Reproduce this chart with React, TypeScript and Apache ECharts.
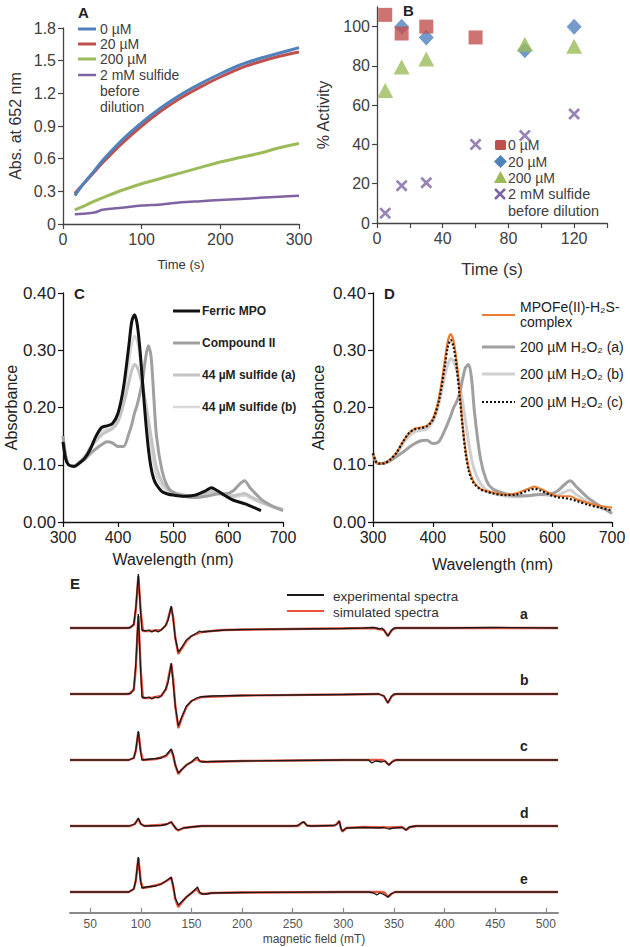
import React, { useEffect, useRef } from "react";
import * as echarts from "echarts";

const FONT = '"Liberation Sans", Arial, Helvetica, sans-serif';

// ---------- Panel A: Abs. at 652 nm vs time ----------
const timeA = [15, 25, 40, 50, 75, 100, 125, 150, 175, 200, 225, 250, 275, 300];
const absA_0uM = [0.26, 0.36, 0.49, 0.58, 0.77, 0.93, 1.07, 1.19, 1.29, 1.38, 1.46, 1.52, 1.57, 1.62];
const absA_20uM = [0.28, 0.36, 0.48, 0.56, 0.74, 0.9, 1.04, 1.16, 1.26, 1.35, 1.43, 1.49, 1.54, 1.58];
const absA_200uM = [0.13, 0.16, 0.21, 0.24, 0.31, 0.37, 0.42, 0.47, 0.52, 0.57, 0.61, 0.65, 0.7, 0.74];
const absA_2mM = [0.09, 0.095, 0.105, 0.13, 0.15, 0.17, 0.18, 0.2, 0.21, 0.22, 0.23, 0.24, 0.25, 0.26];
const legendA = ["0 µM", "20 µM", "200 µM", "2 mM sulfide"];

// ---------- Panel B: % activity vs time ----------
const timeB_0uM = [5, 15, 30, 60];
const actB_0uM = [106, 96.5, 100, 94.5];
const timeB_20uM = [15, 30, 90, 120];
const actB_20uM = [100, 94.5, 88, 100];
const timeB_200uM = [5, 15, 30, 90, 120];
const actB_200uM = [67.5, 79.5, 83.5, 91, 90];
const timeB_2mM = [5, 15, 30, 60, 90, 120];
const actB_2mM = [5, 19, 20.5, 40, 44.5, 55.5];
const yTicksB = [0, 20, 40, 60, 80, 100];
const xLabelsB = [0, 40, 80, 120];
const xTicksB = [0, 20, 40, 60, 80, 100, 120, 140];

// ---------- Panels C & D: spectra ----------
const wl = [300, 305, 310, 320, 330, 340, 350, 360, 370, 380, 390, 400, 410, 420, 425, 430, 435, 440, 445, 450, 455, 460, 465, 470, 480, 490, 500, 520, 540, 560, 570, 580, 600, 610, 620, 630, 640, 660, 680, 700];
const C_ferric = [0.14, 0.11, 0.1, 0.097, 0.103, 0.112, 0.128, 0.15, 0.165, 0.168, 0.172, 0.19, 0.235, 0.31, 0.35, 0.362, 0.345, 0.3, 0.24, 0.18, 0.13, 0.095, 0.075, 0.065, 0.053, 0.049, 0.047, 0.045, 0.047, 0.055, 0.06, 0.055, 0.043, 0.038, 0.035, 0.032, 0.028, 0.02, null, null];
const C_compII = [0.15, 0.115, 0.1, 0.098, 0.103, 0.11, 0.12, 0.128, 0.135, 0.14, 0.138, 0.132, 0.132, 0.155, 0.17, 0.19, 0.205, 0.225, 0.25, 0.285, 0.308, 0.29, 0.22, 0.15, 0.09, 0.062, 0.052, 0.045, 0.043, 0.045, 0.047, 0.049, 0.05, 0.055, 0.065, 0.072, 0.06, 0.04, 0.028, 0.02];
const C_sulfA = [0.15, 0.115, 0.1, 0.098, 0.105, 0.115, 0.13, 0.142, 0.152, 0.158, 0.163, 0.175, 0.205, 0.245, 0.265, 0.275, 0.27, 0.255, 0.235, 0.21, 0.18, 0.15, 0.12, 0.095, 0.07, 0.058, 0.052, 0.047, 0.045, 0.05, 0.053, 0.052, 0.046, 0.046, 0.048, 0.05, 0.045, 0.035, 0.028, 0.022];
const C_sulfB = [0.15, 0.115, 0.1, 0.098, 0.105, 0.115, 0.132, 0.148, 0.158, 0.162, 0.166, 0.18, 0.22, 0.28, 0.31, 0.325, 0.315, 0.285, 0.245, 0.205, 0.165, 0.13, 0.1, 0.08, 0.062, 0.054, 0.05, 0.046, 0.046, 0.053, 0.057, 0.054, 0.046, 0.044, 0.045, 0.046, 0.042, 0.033, 0.026, 0.02];
const D_complex = [0.12, 0.105, 0.102, 0.103, 0.11, 0.122, 0.14, 0.155, 0.163, 0.165, 0.168, 0.18, 0.215, 0.28, 0.315, 0.328, 0.315, 0.28, 0.23, 0.17, 0.125, 0.095, 0.078, 0.068, 0.058, 0.054, 0.052, 0.048, 0.05, 0.058, 0.062, 0.058, 0.048, 0.045, 0.045, 0.045, 0.04, 0.033, 0.028, 0.025];
const D_h2o2A = [0.12, 0.105, 0.102, 0.103, 0.108, 0.115, 0.122, 0.13, 0.137, 0.142, 0.143, 0.137, 0.14, 0.16, 0.172, 0.185, 0.2, 0.21, 0.225, 0.25, 0.27, 0.275, 0.25, 0.19, 0.11, 0.072, 0.058, 0.05, 0.046, 0.046, 0.047, 0.048, 0.05, 0.055, 0.065, 0.072, 0.062, 0.042, 0.028, 0.015];
const D_h2o2B = [0.12, 0.105, 0.102, 0.103, 0.11, 0.12, 0.137, 0.15, 0.158, 0.16, 0.163, 0.175, 0.205, 0.255, 0.275, 0.285, 0.28, 0.265, 0.24, 0.21, 0.175, 0.14, 0.11, 0.09, 0.067, 0.056, 0.05, 0.046, 0.044, 0.046, 0.048, 0.048, 0.046, 0.047, 0.052, 0.056, 0.048, 0.035, 0.025, 0.018];
const D_h2o2C = [0.12, 0.105, 0.102, 0.103, 0.11, 0.122, 0.14, 0.155, 0.162, 0.164, 0.167, 0.178, 0.21, 0.27, 0.305, 0.318, 0.305, 0.27, 0.22, 0.165, 0.12, 0.09, 0.075, 0.066, 0.057, 0.053, 0.05, 0.047, 0.048, 0.055, 0.058, 0.055, 0.046, 0.043, 0.042, 0.04, 0.037, 0.03, 0.025, 0.02];

// ---------- Panel E: EPR spectra [field (mT), signal] ----------
const epr_a_exp = [[30, 0], [85, 0], [90, 0.5], [93, 4], [95, 20], [97.5, 54], [99.5, 20], [101, -2], [105, -3], [108, -2], [111, -4], [114, -2], [117, -4], [120, -2], [124, 2], [127, 8], [130, 22], [131.5, 12], [134, -10], [137, -24], [140, -20], [145, -12], [150, -8], [155, -5], [158, -3], [160, -4], [170, -3], [185, -2], [200, -1.5], [250, -1], [300, -0.5], [320, 0], [330, 0.5], [336, -1], [338, 0], [340, -2], [344, -8], [347, -3], [350, 0], [400, 0], [450, 0.5], [512, 0]];
const epr_a_sim = [[30, 0], [88, 0], [93, 3], [95, 18], [97.5, 52], [100, 15], [102, -3], [110, -3], [120, -2], [125, 3], [130, 21], [132, 10], [134, -10], [137, -26], [140, -21], [145, -13], [150, -8], [160, -4], [180, -2], [250, -1], [330, 0], [340, -2], [344, -8], [348, -2], [352, 0], [512, 0]];
const epr_b_exp = [[30, 0], [85, 0], [90, 0.5], [93, 5], [95, 30], [97.5, 80], [99.5, 30], [101, -3], [105, -4], [108, -3], [111, -5], [114, -3], [117, -4], [120, -2], [124, 4], [127, 12], [130, 31], [131.5, 15], [134, -12], [137, -32], [140, -24], [145, -12], [150, -7], [155, -4], [158, -3], [170, -2], [200, -1.5], [250, -1], [300, -0.5], [335, 0], [340, -2], [344, -9], [347, -3], [350, 0], [400, 0], [512, 0]];
const epr_b_sim = [[30, 0], [88, 0], [93, 4], [95, 26], [97.5, 78], [100, 22], [102, -4], [110, -4], [120, -2], [125, 5], [130, 30], [132, 14], [134, -12], [137, -34], [140, -25], [145, -13], [150, -7], [160, -3], [200, -1.5], [300, -0.5], [335, 0], [340, -2], [344, -9], [348, -2], [352, 0], [512, 0]];
const epr_c_exp = [[30, 0], [88, 0], [93, 2], [95, 10], [97.5, 29], [99.5, 10], [101, 0], [110, 1], [120, 2], [125, 5], [130, 11], [132, 5], [134, -5], [137, -13], [140, -10], [145, -5], [150, -2], [154, 2], [156, 3], [158, -1], [160, -2], [170, -1.5], [200, -1], [250, -0.5], [300, 0], [325, 0], [328, -3], [332, -1], [338, -2], [341, -1], [345, -5], [348, -2], [352, 0], [512, 0]];
const epr_c_sim = [[30, 0], [88, 0], [93, 2], [95, 9], [97.5, 28], [100, 8], [102, 0], [115, 1], [125, 4], [130, 10], [132, 4], [134, -5], [137, -14], [140, -10], [145, -5], [150, -2], [155, 1], [158, -1], [165, -2], [200, -1], [300, 0], [338, 0], [341, -1], [345, -5], [349, -1], [352, 0], [512, 0]];
const epr_d_exp = [[30, 0], [88, 0], [94, 2], [97.5, 8], [100, 2], [103, 0], [120, 0.5], [126, 2], [130, 4], [132, 1], [135, -3], [137, -4], [142, -2], [150, -1], [160, 0], [250, 0], [255, 0.5], [259, 3.5], [261, 4], [264, 0.5], [268, 0], [290, 0.5], [294, 2], [296, 5], [297.5, -2], [299, -5], [303, -2], [320, -1.5], [335, -2], [340, -1.5], [345, -3], [350, -2], [358, -1.5], [362, -4], [365, -1], [372, 0], [512, 0]];
const epr_d_sim = [[30, 0], [90, 0], [94, 2], [97.5, 7], [100, 2], [104, 0], [125, 1.5], [130, 4], [132, 1], [135, -3], [137, -4.5], [142, -2], [150, -1], [160, 0], [255, 0], [259, 3], [261, 4], [264, 0.5], [268, 0], [292, 0.5], [296, 5], [297.5, -2], [299, -5.5], [303, -2], [320, -1], [345, -1.5], [358, -1], [362, -4], [366, -1], [372, 0], [512, 0]];
const epr_e_exp = [[30, 0], [88, 0], [93, 3], [95, 12], [97.5, 35], [99.5, 12], [101, 4], [105, 5], [115, 6], [120, 8], [125, 11], [130, 15], [132, 6], [134, -6], [137, -13], [140, -10], [145, -5], [150, -1], [154, 3], [156, 5], [158, 0], [160, -2], [165, -2], [170, -1], [200, -0.5], [300, 0], [325, 0], [330, -1], [333, -3], [336, -1], [339, -2], [344, -5], [347, -2], [351, 0], [512, 0]];
const epr_e_sim = [[30, 0], [88, 0], [93, 3], [95, 11], [97.5, 34], [100, 10], [102, 4], [110, 5.5], [120, 8], [125, 11], [130, 14], [132, 5], [134, -7], [137, -15], [140, -11], [145, -5], [150, -1], [155, 3], [158, -1], [162, -2], [170, -1], [200, -0.5], [300, 0], [338, 0], [341, -1], [344, -5], [348, -1.5], [351, 0], [512, 0]];
const eprLabels = ["a", "b", "c", "d", "e"];
const eprTicks = [50, 100, 150, 200, 250, 300, 350, 400, 450, 500];

const pair = (xs: number[], ys: (number | null)[]) => xs.map((x, i) => [x, ys[i]]);

export default function App() {
  const ref = useRef<HTMLDivElement>(null);

  useEffect(() => {
    if (!ref.current) return;
    const chart = echarts.init(ref.current, null, { renderer: "svg" });

    const BLUE = "#4F81BD", RED = "#C0504D", GREEN = "#9BBB59", PURPLE = "#8064A2";
    const ORANGE = "#ED7D31";

    const txt = (x: number, y: number, text: string, size: number, opts: any = {}) => ({
      type: "text", x, y, silent: true,
      style: {
        text, fontSize: size, fontFamily: FONT, fontWeight: opts.bold ? "bold" : "normal",
        fill: opts.color || "#333", align: opts.align || "left", verticalAlign: "middle",
      },
    });
    const ln = (x1: number, y1: number, x2: number, y2: number, stroke: string, w: number, dash?: number[]) => ({
      type: "line", silent: true, shape: { x1, y1, x2, y2 },
      style: { stroke, lineWidth: w, lineDash: dash },
    });

    const axisBase = (color: string, fs: number, lc: string) => ({
      type: "value",
      splitLine: { show: false },
      axisLine: { show: true, onZero: false, lineStyle: { color: lc, width: 1.3 } },
      axisTick: { show: true, length: 5, inside: false, lineStyle: { color: lc, width: 1.2 } },
      axisLabel: { fontSize: fs, color, fontFamily: FONT, margin: 7 },
      nameLocation: "middle",
    });

    // stacking offsets for EPR traces (layout only)
    const eprStep = 66;
    const off = (k: number) => 21 + (4 - k) * eprStep;
    const shift = (arr: number[][], k: number) => arr.map(([x, y]) => [x, y + off(k)]);
    const eprExp = [epr_a_exp, epr_b_exp, epr_c_exp, epr_d_exp, epr_e_exp];
    const eprSim = [epr_a_sim, epr_b_sim, epr_c_sim, epr_d_sim, epr_e_sim];

    const lineS = (name: string, data: any, xi: number, color: string, width: number, extra: any = {}) => ({
      type: "line", name, data, xAxisIndex: xi, yAxisIndex: xi, showSymbol: false, symbol: "none",
      lineStyle: { color, width, ...(extra.lineStyle || {}) }, itemStyle: { color },
      smooth: extra.smooth ?? false, connectNulls: false, silent: true, z: extra.z ?? 2,
    });

    const xPath = "path://M0,1.6L1.6,0L5,3.4L8.4,0L10,1.6L6.6,5L10,8.4L8.4,10L5,6.6L1.6,10L0,8.4L3.4,5Z";

    const option: any = {
      animation: false,
      backgroundColor: "#ffffff",
      textStyle: { fontFamily: FONT },
      grid: [
        { left: 63, top: 28, width: 236, height: 196 },
        { left: 377, top: 7, width: 230, height: 216 },
        { left: 63, top: 293, width: 220, height: 229 },
        { left: 373, top: 293, width: 239, height: 229 },
        { left: 70, top: 560, width: 488, height: 353 },
      ],
      xAxis: [
        { ...axisBase("#404040", 16, "#444"), gridIndex: 0, min: 0, max: 300, interval: 100,
          name: "Time (s)", nameGap: 34, nameTextStyle: { fontSize: 13, color: "#333", fontFamily: FONT } },
        { ...axisBase("#404040", 16, "#444"), gridIndex: 1, min: 0, max: 140,
          axisLabel: { ...axisBase("#404040", 16, "#444").axisLabel, customValues: xLabelsB },
          axisTick: { ...axisBase("#404040", 16, "#444").axisTick, customValues: xTicksB },
          name: "Time (s)", nameGap: 38, nameTextStyle: { fontSize: 17, color: "#333", fontFamily: FONT } },
        { ...axisBase("#222", 16, "#111"), gridIndex: 2, min: 300, max: 700, interval: 100,
          name: "Wavelength (nm)", nameGap: 29, nameTextStyle: { fontSize: 16, color: "#222", fontFamily: FONT } },
        { ...axisBase("#222", 16, "#111"), gridIndex: 3, min: 300, max: 700, interval: 100,
          name: "Wavelength (nm)", nameGap: 34, nameTextStyle: { fontSize: 16, color: "#222", fontFamily: FONT } },
        { ...axisBase("#555", 12, "#888"), gridIndex: 4, min: 30, max: 512,
          axisLine: { show: true, onZero: false, lineStyle: { color: "#8a8a8a", width: 2 } },
          axisTick: { show: true, inside: true, length: 5, customValues: eprTicks, lineStyle: { color: "#8a8a8a", width: 1.2 } },
          axisLabel: { fontSize: 12, color: "#555", fontFamily: FONT, margin: 5, customValues: eprTicks },
          name: "magnetic field (mT)", nameGap: 20, nameTextStyle: { fontSize: 12, color: "#444", fontFamily: FONT } },
      ],
      yAxis: [
        { ...axisBase("#404040", 16, "#444"), gridIndex: 0, min: 0, max: 1.8, interval: 0.3,
          axisLabel: { ...axisBase("#404040", 16, "#444").axisLabel, formatter: (v: number) => (v === 0 ? "0" : v.toFixed(1)) },
          name: "Abs. at 652 nm", nameGap: 40, nameTextStyle: { fontSize: 16, color: "#333", fontFamily: FONT } },
        { ...axisBase("#404040", 16, "#444"), gridIndex: 1, min: 0, max: 110,
          axisLabel: { ...axisBase("#404040", 16, "#444").axisLabel, customValues: yTicksB },
          axisTick: { ...axisBase("#404040", 16, "#444").axisTick, customValues: yTicksB },
          name: "% Activity", nameGap: 46, nameTextStyle: { fontSize: 16, color: "#333", fontFamily: FONT } },
        { ...axisBase("#222", 17, "#111"), gridIndex: 2, min: 0, max: 0.4, interval: 0.1,
          axisLabel: { ...axisBase("#222", 17, "#111").axisLabel, formatter: (v: number) => v.toFixed(2) },
          name: "Absorbance", nameGap: 40, nameTextStyle: { fontSize: 16, color: "#222", fontFamily: FONT } },
        { ...axisBase("#222", 17, "#111"), gridIndex: 3, min: 0, max: 0.4, interval: 0.1,
          axisLabel: { ...axisBase("#222", 17, "#111").axisLabel, formatter: (v: number) => v.toFixed(2) },
          name: "Absorbance", nameGap: 47, nameTextStyle: { fontSize: 16, color: "#222", fontFamily: FONT } },
        { type: "value", gridIndex: 4, min: 0, max: 353, show: false },
      ],
      series: [
        // A
        lineS("2 mM sulfide before dilution", pair(timeA, absA_2mM), 0, PURPLE, 2.5, { smooth: 0.3 }),
        lineS("200 µM", pair(timeA, absA_200uM), 0, GREEN, 3, { smooth: 0.3 }),
        lineS("20 µM", pair(timeA, absA_20uM), 0, RED, 3, { smooth: 0.3 }),
        lineS("0 µM", pair(timeA, absA_0uM), 0, BLUE, 3, { smooth: 0.3 }),
        // B
        { type: "scatter", name: "20 µM", xAxisIndex: 1, yAxisIndex: 1, data: pair(timeB_20uM, actB_20uM),
          symbol: "diamond", symbolSize: [15, 16], itemStyle: { color: BLUE }, silent: true },
        { type: "scatter", name: "200 µM", xAxisIndex: 1, yAxisIndex: 1, data: pair(timeB_200uM, actB_200uM),
          symbol: "triangle", symbolSize: [16, 15], itemStyle: { color: GREEN }, silent: true },
        { type: "scatter", name: "2 mM sulfide before dilution", xAxisIndex: 1, yAxisIndex: 1, data: pair(timeB_2mM, actB_2mM),
          symbol: xPath, symbolSize: 12, itemStyle: { color: PURPLE }, silent: true },
        { type: "scatter", name: "0 µM", xAxisIndex: 1, yAxisIndex: 1, data: pair(timeB_0uM, actB_0uM),
          symbol: "rect", symbolSize: 14, itemStyle: { color: RED, borderRadius: 2 }, silent: true },
        // C
        lineS("44 µM sulfide (b)", pair(wl, C_sulfB), 2, "#d9d9d9", 2.5, { smooth: 0.3 }),
        lineS("44 µM sulfide (a)", pair(wl, C_sulfA), 2, "#c4c4c4", 3, { smooth: 0.3 }),
        lineS("Compound II", pair(wl, C_compII), 2, "#a0a0a0", 3, { smooth: 0.3 }),
        lineS("Ferric MPO", pair(wl, C_ferric), 2, "#111111", 3, { smooth: 0.3 }),
        // D
        lineS("200 µM H₂O₂ (b)", pair(wl, D_h2o2B), 3, "#d0d0d0", 3, { smooth: 0.3 }),
        lineS("200 µM H₂O₂ (a)", pair(wl, D_h2o2A), 3, "#a0a0a0", 3, { smooth: 0.3 }),
        lineS("MPOFe(II)-H₂S-complex", pair(wl, D_complex), 3, ORANGE, 2.2, { smooth: 0.3 }),
        lineS("200 µM H₂O₂ (c)", pair(wl, D_h2o2C), 3, "#111111", 2.2, { smooth: 0.3, lineStyle: { type: [2, 2] } }),
        // E
        ...eprSim.map((arr, k) => lineS("simulated spectra " + eprLabels[k], shift(arr, k), 4, "#e8523f", 2.4, { z: 2 })),
        ...eprExp.map((arr, k) => lineS("experimental spectra " + eprLabels[k], shift(arr, k), 4, "#1a1a1a", 1.3, { z: 3 })),
      ],
      graphic: {
        elements: [
          // panel letters
          txt(78, 12, "A", 15, { bold: true, color: "#222" }),
          txt(403, 10, "B", 15, { bold: true, color: "#222" }),
          txt(74, 293, "C", 15, { bold: true, color: "#222" }),
          txt(384, 293, "D", 15, { bold: true, color: "#222" }),
          txt(70, 583, "E", 15, { bold: true, color: "#222" }),
          // legend A
          ln(78, 29, 96, 29, BLUE, 3), txt(100, 29, legendA[0], 14, { color: "#404040" }),
          ln(78, 44, 96, 44, RED, 3), txt(100, 44, legendA[1], 14, { color: "#404040" }),
          ln(78, 59, 96, 59, GREEN, 3), txt(100, 59, legendA[2], 14, { color: "#404040" }),
          ln(78, 75, 96, 75, PURPLE, 2.5), txt(100, 75, legendA[3], 14, { color: "#404040" }),
          txt(100, 91, "before", 14, { color: "#404040" }),
          txt(100, 107, "dilution", 14, { color: "#404040" }),
          // legend B
          { type: "rect", silent: true, shape: { x: 495, y: 140, width: 11, height: 10, r: 1.5 }, style: { fill: RED } },
          txt(508, 145, "0 µM", 14, { color: "#404040" }),
          { type: "polygon", silent: true, shape: { points: [[500.5, 155], [507, 161.5], [500.5, 168], [494, 161.5]] }, style: { fill: BLUE } },
          txt(508, 161.5, "20 µM", 14, { color: "#404040" }),
          { type: "polygon", silent: true, shape: { points: [[500.5, 171], [507, 183], [494, 183]] }, style: { fill: GREEN } },
          txt(508, 177.5, "200 µM", 14, { color: "#404040" }),
          ln(495, 189, 505, 199, PURPLE, 2.5), ln(505, 189, 495, 199, PURPLE, 2.5),
          txt(508, 194, "2 mM sulfide", 14.5, { color: "#404040" }),
          txt(508, 211, "before dilution", 14.5, { color: "#404040" }),
          // legend C
          ln(173, 311, 200, 311, "#111111", 3), txt(202, 311, "Ferric MPO", 12, { bold: true, color: "#222" }),
          ln(173, 343, 200, 343, "#a0a0a0", 3), txt(202, 343, "Compound II", 12, { bold: true, color: "#222" }),
          ln(173, 375, 200, 375, "#c4c4c4", 3), txt(202, 375, "44 µM sulfide (a)", 12, { bold: true, color: "#222" }),
          ln(173, 407, 200, 407, "#d9d9d9", 2.5), txt(202, 407, "44 µM sulfide (b)", 12, { bold: true, color: "#222" }),
          // legend D
          ln(482, 315, 515, 315, ORANGE, 2.2),
          txt(520, 307, "MPOFe(II)-H₂S-", 14, { color: "#222" }),
          txt(520, 322, "complex", 14, { color: "#222" }),
          ln(482, 347, 515, 347, "#a0a0a0", 3), txt(520, 347, "200 µM H₂O₂ (a)", 14, { color: "#222" }),
          ln(482, 374, 515, 374, "#d0d0d0", 3), txt(520, 374, "200 µM H₂O₂ (b)", 14, { color: "#222" }),
          ln(482, 402, 515, 402, "#111111", 2.2, [2, 2]), txt(520, 402, "200 µM H₂O₂ (c)", 14, { color: "#222" }),
          // legend E
          ln(287, 595, 324, 595, "#1a1a1a", 2), txt(333, 596, "experimental spectra", 13.5, { color: "#333" }),
          ln(287, 611, 324, 611, "#e8523f", 2), txt(333, 612, "simulated spectra", 13.5, { color: "#333" }),
          // trace labels
          ...eprLabels.map((l, k) => txt(520, 614 + k * 66.2, l, 14, { bold: true, color: "#222" })),
        ],
      },
    };

    chart.setOption(option);
    return () => chart.dispose();
  }, []);

  return (
    <div
      ref={ref}
      style={{ position: "absolute", left: 0, top: 0, width: 630, height: 947, background: "#fff" }}
    />
  );
}
